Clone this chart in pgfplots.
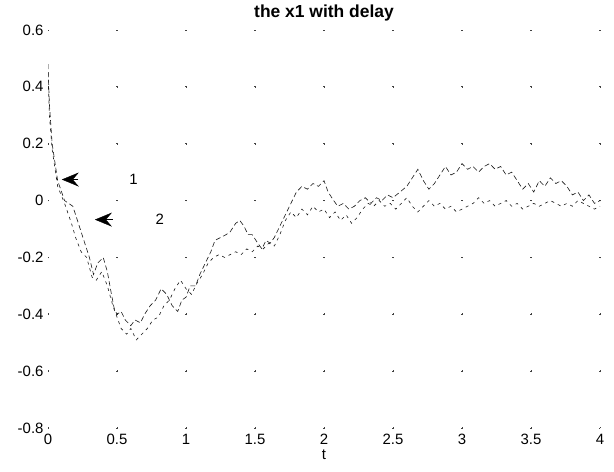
\documentclass[border=0pt]{standalone}
\usepackage{fontspec}
\setmainfont{Liberation Sans}
\usepackage{pgfplots}
\pgfplotsset{compat=1.18}
\usetikzlibrary{arrows.meta}

% two noisy responses
\pgfplotstableread{
t y
0.00 0.48
0.01 0.34
0.03 0.20
0.07 0.07
0.12 0.00
0.18 -0.02
0.22 -0.08
0.26 -0.14
0.30 -0.20
0.33 -0.26
0.36 -0.22
0.40 -0.20
0.43 -0.25
0.46 -0.33
0.48 -0.38
0.50 -0.40
0.53 -0.39
0.56 -0.42
0.60 -0.44
0.63 -0.42
0.67 -0.43
0.70 -0.40
0.74 -0.37
0.78 -0.35
0.82 -0.31
0.86 -0.33
0.90 -0.37
0.94 -0.39
0.97 -0.35
1.00 -0.34
1.03 -0.30
1.07 -0.30
1.10 -0.26
1.14 -0.22
1.18 -0.18
1.21 -0.14
1.25 -0.13
1.29 -0.12
1.32 -0.11
1.36 -0.08
1.39 -0.07
1.42 -0.09
1.45 -0.12
1.48 -0.12
1.52 -0.15
1.55 -0.17
1.58 -0.14
1.61 -0.15
1.64 -0.13
1.68 -0.09
1.72 -0.05
1.76 -0.01
1.80 0.03
1.84 0.05
1.88 0.04
1.92 0.06
1.96 0.05
2.00 0.07
2.03 0.03
2.07 0.00
2.10 -0.02
2.14 -0.01
2.18 -0.03
2.22 -0.02
2.26 0.00
2.30 0.01
2.34 -0.01
2.38 0.01
2.42 0.00
2.46 0.02
2.50 0.01
2.55 0.03
2.60 0.05
2.64 0.08
2.68 0.11
2.72 0.07
2.76 0.04
2.80 0.06
2.84 0.09
2.88 0.12
2.92 0.09
2.96 0.10
3.00 0.13
3.04 0.11
3.08 0.12
3.12 0.10
3.16 0.12
3.20 0.13
3.24 0.11
3.28 0.12
3.32 0.09
3.36 0.10
3.40 0.07
3.44 0.04
3.48 0.06
3.52 0.03
3.56 0.07
3.60 0.05
3.64 0.08
3.68 0.06
3.72 0.07
3.76 0.05
3.80 0.02
3.84 0.03
3.88 0.00
3.92 0.02
3.96 -0.01
4.00 0.00
}\seriesone

\pgfplotstableread{
t y
0.00 0.45
0.01 0.30
0.03 0.18
0.07 0.05
0.12 -0.01
0.17 -0.08
0.20 -0.13
0.24 -0.18
0.28 -0.20
0.32 -0.27
0.35 -0.28
0.39 -0.25
0.43 -0.30
0.47 -0.37
0.50 -0.41
0.53 -0.45
0.57 -0.47
0.60 -0.45
0.64 -0.49
0.68 -0.47
0.72 -0.45
0.76 -0.42
0.80 -0.41
0.84 -0.37
0.88 -0.35
0.92 -0.31
0.96 -0.28
1.00 -0.31
1.04 -0.33
1.08 -0.29
1.12 -0.26
1.16 -0.22
1.20 -0.20
1.24 -0.19
1.28 -0.20
1.32 -0.19
1.36 -0.18
1.40 -0.19
1.44 -0.17
1.48 -0.18
1.52 -0.16
1.56 -0.17
1.60 -0.15
1.64 -0.16
1.68 -0.12
1.72 -0.07
1.76 -0.04
1.80 -0.06
1.84 -0.03
1.88 -0.05
1.92 -0.02
1.96 -0.04
2.00 -0.03
2.04 -0.06
2.08 -0.04
2.12 -0.07
2.16 -0.05
2.20 -0.08
2.24 -0.06
2.28 -0.03
2.32 -0.01
2.36 -0.02
2.40 0.00
2.44 -0.02
2.48 -0.01
2.52 -0.03
2.56 -0.01
2.60 0.01
2.64 -0.02
2.68 -0.04
2.72 -0.02
2.76 0.00
2.80 -0.02
2.84 -0.01
2.88 -0.03
2.92 -0.02
2.96 -0.04
3.00 -0.03
3.04 -0.02
3.08 -0.01
3.12 0.01
3.16 -0.01
3.20 0.00
3.24 -0.02
3.28 -0.01
3.32 0.00
3.36 -0.02
3.40 -0.01
3.44 -0.03
3.48 -0.02
3.52 -0.01
3.56 -0.02
3.60 -0.01
3.64 0.00
3.68 -0.01
3.72 -0.02
3.76 -0.01
3.80 -0.02
3.84 0.00
3.88 -0.01
3.92 -0.02
3.96 -0.03
4.00 -0.02
}\seriestwo

\begin{document}
\begin{tikzpicture}
\begin{axis}[
  scale only axis,
  width=552bp, height=398bp,
  xmin=0, xmax=4, ymin=-0.8, ymax=0.6,
  xtick={0,0.5,1,1.5,2,2.5,3,3.5,4},
  ytick={-0.8,-0.6,-0.4,-0.2,0,0.2,0.4,0.6},
  yticklabels={-0.8,-0.6,-0.4,-0.2,0,0.2,0.4,0.6},
  axis line style={draw=none},
  major tick length=0pt,
  /pgf/number format/assume math mode=true,
  tick label style={font=\fontsize{15}{17}\selectfont},
  xticklabel style={yshift=-5bp, inner ysep=1bp},
  yticklabel style={xshift=-1bp},
  grid=major,
  x grid style={black!75, line width=0.9bp, dash pattern=on 1.8bp off 55.057bp, dash phase=0.9bp},
  y grid style={black!75, line width=0.9bp, dash pattern=on 1.8bp off 67.2bp, dash phase=0.9bp},
  title={\bfseries the x1 with delay},
  title style={font=\fontsize{17.5}{19}\selectfont, yshift=-1bp},
  xlabel={t},
  xlabel style={font=\fontsize{15}{17}\selectfont, inner ysep=0bp, yshift=-4bp},
]
\addplot[black!90, line width=0.6bp, dash pattern=on 5bp off 3bp] table[x=t, y=y] {\seriesone};
\addplot[black!90, line width=0.6bp, dash pattern=on 3bp off 4bp] table[x=t, y=y] {\seriestwo};

\draw[line width=0.4pt, -{Stealth[length=17bp, width=14bp, inset=6bp]}]
  (axis cs:0.22,0.074) -- (axis cs:0.10,0.074);
\draw[line width=0.4pt, -{Stealth[length=17bp, width=14bp, inset=6bp]}]
  (axis cs:0.47,-0.067) -- (axis cs:0.34,-0.067);
\node[font=\fontsize{15}{17}\selectfont] at (axis cs:0.62,0.074) {1};
\node[font=\fontsize{15}{17}\selectfont] at (axis cs:0.81,-0.067) {2};
\end{axis}
\pgfresetboundingbox
\useasboundingbox ([shift={(-48bp,-43bp)}]current axis.south west)
  rectangle ([shift={(14bp,30bp)}]current axis.north east);
\end{tikzpicture}
\end{document}
